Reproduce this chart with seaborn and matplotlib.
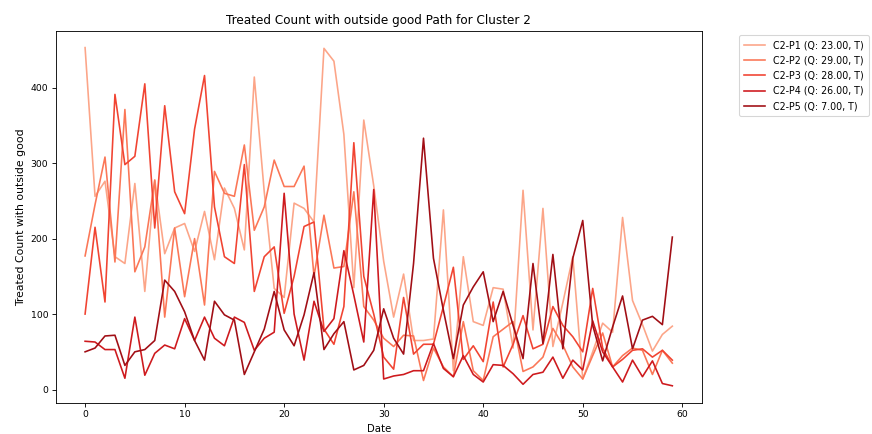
import matplotlib
matplotlib.use("Agg")
import matplotlib.pyplot as plt
import seaborn as sns
import pandas as pd
import numpy as np

# series (Date 0..59)
dates = list(range(60))
labels = ["C2-P1 (Q: 23.00, T)", "C2-P2 (Q: 29.00, T)", "C2-P3 (Q: 28.00, T)",
          "C2-P4 (Q: 26.00, T)", "C2-P5 (Q: 7.00, T)"]

p1 = [453, 256, 276, 176, 167, 273, 130, 278, 180, 214,
      220, 183, 236, 172, 267, 240, 185, 414, 262, 134,
      122, 247, 240, 222, 452, 435, 338, 135, 357, 270,
      170, 96, 153, 65, 65, 67, 238, 25, 176, 90,
      85, 135, 133, 55, 264, 79, 240, 57, 115, 176,
      14, 50, 88, 76, 228, 118, 86, 51, 73, 84]
p2 = [177, 245, 308, 169, 371, 156, 189, 277, 96, 214,
      123, 200, 112, 289, 260, 256, 324, 211, 242, 304,
      269, 269, 296, 150, 231, 161, 163, 262, 110, 92,
      68, 57, 72, 71, 12, 55, 30, 17, 90, 25,
      12, 70, 80, 90, 24, 30, 43, 81, 59, 30,
      14, 45, 75, 30, 45, 55, 52, 20, 52, 35]
p3 = [100, 215, 116, 391, 298, 309, 405, 214, 376, 262,
      233, 345, 416, 242, 176, 167, 298, 130, 176, 189,
      101, 150, 216, 222, 80, 60, 110, 327, 150, 100,
      43, 27, 122, 47, 60, 60, 110, 162, 40, 58,
      37, 116, 30, 60, 98, 54, 60, 110, 85, 70,
      50, 134, 55, 30, 40, 52, 54, 43, 52, 39]
p4 = [64, 63, 53, 53, 15, 96, 19, 48, 59, 54,
      94, 65, 96, 68, 58, 96, 89, 52, 68, 76,
      260, 100, 39, 117, 77, 94, 184, 125, 63, 265,
      14, 18, 20, 25, 25, 61, 28, 17, 45, 20,
      10, 33, 32, 21, 7, 20, 23, 43, 15, 39,
      26, 91, 50, 30, 10, 39, 17, 38, 8, 5]
p5 = [50, 55, 71, 72, 32, 50, 53, 65, 145, 130,
      103, 65, 39, 117, 99, 92, 20, 50, 80, 130,
      79, 58, 99, 155, 53, 74, 90, 26, 32, 52,
      107, 68, 47, 167, 333, 174, 105, 41, 112, 136,
      156, 90, 130, 85, 41, 167, 61, 179, 54, 174,
      224, 85, 38, 83, 124, 54, 92, 97, 86, 202]

df = pd.concat([
    pd.DataFrame({"Date": dates, "count": vals, "path": lab})
    for lab, vals in zip(labels, [p1, p2, p3, p4, p5])
])

colors = [matplotlib.colormaps["Reds"](v) for v in np.linspace(0.32, 0.88, 5)]

fig = plt.figure(figsize=(872 / 78, 434 / 78), dpi=78)
ax = fig.add_axes([0.0639, 0.0721, 0.8047 - 0.0639, 0.9293 - 0.0721])
sns.lineplot(data=df, x="Date", y="count", hue="path", palette=colors,
             linewidth=1.5, ax=ax)
sns.move_legend(ax, "upper left", bbox_to_anchor=(1.05, 1), title=None,
                fontsize=8.8, labelspacing=0.55, handlelength=2.3,
                borderpad=0.5)

ax.set_title("Treated Count with outside good Path for Cluster 2", fontsize=11.1)
ax.set_xlabel("Date", fontsize=9.3)
ax.set_ylabel("Treated Count with outside good", fontsize=10)
ax.tick_params(labelsize=8.5)

fig.savefig("out.png", dpi=78)
